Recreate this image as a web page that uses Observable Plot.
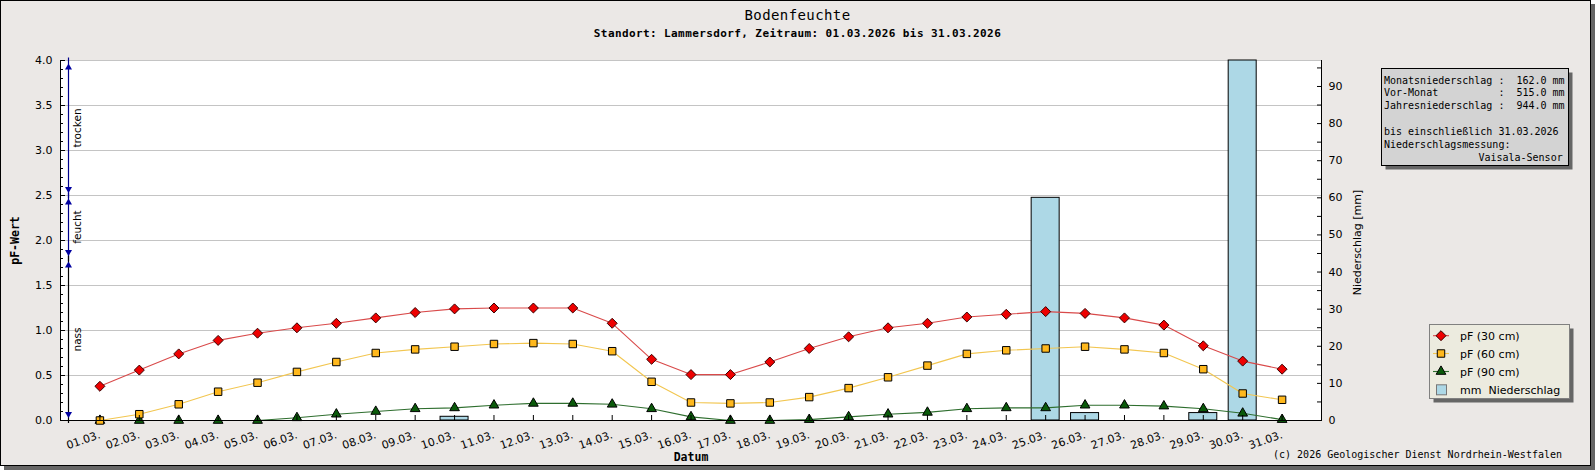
<!DOCTYPE html>
<html>
<head>
<meta charset="utf-8">
<script src="https://cdn.jsdelivr.net/npm/d3@7"></script>
<script src="https://cdn.jsdelivr.net/npm/@observablehq/plot@0.6"></script>
<style>
  body { margin: 0; background: white; }
  #wrap { position: relative; width: 1595px; height: 470px; }
  #frame { position: absolute; left: 0; top: 0; width: 1589px; height: 464px; border: 1px solid #000; background: #ebe8e6; box-shadow: 4px 4px 0 #666; }
  #chart { position: absolute; left: 0; top: 0; }
  #overlay { position: absolute; left: 0; top: 0; pointer-events: none; }
</style>
</head>
<body>
<div id="wrap">
  <div id="frame"></div>
  <div id="chart"></div>
  <svg id="overlay" width="1595" height="470"></svg>
</div>
<script>
// ---------- data ----------
const dayLabels = ["01.03.","02.03.","03.03.","04.03.","05.03.","06.03.","07.03.","08.03.","09.03.","10.03.",
  "11.03.","12.03.","13.03.","14.03.","15.03.","16.03.","17.03.","18.03.","19.03.","20.03.",
  "21.03.","22.03.","23.03.","24.03.","25.03.","26.03.","27.03.","28.03.","29.03.","30.03.","31.03."];
const pf30 = [0.38,0.56,0.74,0.89,0.97,1.03,1.08,1.14,1.20,1.24,1.25,1.25,1.25,1.08,0.68,0.51,0.51,0.65,0.80,0.93,1.03,1.08,1.15,1.18,1.21,1.19,1.14,1.06,0.83,0.66,0.57];
const pf60 = [0.00,0.07,0.18,0.32,0.42,0.54,0.65,0.75,0.79,0.82,0.85,0.86,0.85,0.77,0.43,0.20,0.19,0.20,0.26,0.36,0.48,0.61,0.74,0.78,0.80,0.82,0.79,0.75,0.57,0.30,0.23];
const pf90 = [0.00,0.00,0.00,0.00,0.00,0.03,0.07,0.10,0.13,0.14,0.17,0.19,0.19,0.18,0.13,0.04,0.00,0.00,0.01,0.04,0.07,0.09,0.13,0.14,0.14,0.17,0.17,0.16,0.13,0.08,0.01];
const rain = [0,0,0,0,0,0,0,0,0,1,0,0,0,0,0,0,0,0,0,0,0,0,0,0,60,2,0,0,2,97,0];
const pfTicks = [0,0.5,1.0,1.5,2.0,2.5,3.0,3.5,4.0];
const rainTicks = [0,10,20,30,40,50,60,70,80,90];
const rainMax = 97;
const zoneLabels = ["trocken","feucht","nass"];
const zoneFrom = [2.5,1.8,0];
const zoneTo = [4.0,2.5,1.8];
const zoneLine = ["#00008b","#00008b","#000000"];
const infoLines = ["Monatsniederschlag :  162.0 mm","Vor-Monat          :  515.0 mm","Jahresniederschlag :  944.0 mm","","bis einschließlich 31.03.2026","Niederschlagsmessung:"];
const infoLast = "Vaisala-Sensor";
const legendLabels = ["pF (30 cm)","pF (60 cm)","pF (90 cm)","mm  Niederschlag"];
const titleText = "Bodenfeuchte";
const subtitleText = "Standort: Lammersdorf, Zeitraum: 01.03.2026 bis 31.03.2026";
const copyrightText = "(c) 2026 Geologischer Dienst Nordrhein-Westfalen";

// ---------- build tables ----------
const k = 4 / rainMax;
const rows = dayLabels.map((l, i) => ({day: i + 1, label: l, pf30: pf30[i], pf60: pf60[i], pf90: pf90[i], mm: rain[i]}));
const rainRows = rows.filter(d => d.mm > 0);
const zones = zoneLabels.map((l, i) => ({label: l, from: zoneFrom[i], to: zoneTo[i], color: zoneLine[i]}));
const days = rows.map(d => d.day);
const minorPf = d3.range(0, 40.5, 1).map(v => v / 10);
const minorRain = d3.range(0, 96, 5);

const C30 = {line: "#d94a4a", fill: "#ee0000", stroke: "#3a0000"};
const C60 = {line: "#f2c650", fill: "#ffb81c", stroke: "#000"};
const C90 = {line: "#2e6e2e", fill: "#0a5a0a", stroke: "#000"};
const mono = "DejaVu Sans Mono, monospace";

const chart = Plot.plot({
  width: 1595, height: 470,
  marginLeft: 60, marginRight: 274, marginTop: 60, marginBottom: 50,
  style: {background: "transparent", fontFamily: "DejaVu Sans, sans-serif", fontSize: "11px", color: "black", overflow: "visible"},
  x: {type: "linear", domain: [0, 32]},
  y: {type: "linear", domain: [0, 4]},
  marks: [
    Plot.frame({fill: "white"}),
    Plot.gridY(pfTicks, {stroke: "#c4c4c4", strokeOpacity: 1}),
    Plot.rect(rainRows, {x1: d => d.day - 0.5, x2: d => d.day + 0.5, y1: 0, y2: d => d.mm * k, insetLeft: 5.7, insetRight: 5.7, fill: "#add8e6", stroke: "#000", strokeWidth: 1}),
    Plot.line(rows, {x: "day", y: "pf90", stroke: C90.line, strokeWidth: 1.1}),
    Plot.line(rows, {x: "day", y: "pf60", stroke: C60.line, strokeWidth: 1.1}),
    Plot.line(rows, {x: "day", y: "pf30", stroke: C30.line, strokeWidth: 1.1}),
    Plot.dot(rows, {x: "day", y: "pf90", symbol: "triangle", r: 3.6, fill: C90.fill, stroke: C90.stroke, strokeWidth: 1}),
    Plot.dot(rows, {x: "day", y: "pf60", symbol: "square", r: 4.2, fill: C60.fill, stroke: C60.stroke, strokeWidth: 1}),
    Plot.dot(rows, {x: "day", y: "pf30", symbol: "diamond2", r: 4.5, fill: C30.fill, stroke: C30.stroke, strokeWidth: 1}),
    // axes
    Plot.axisX(days, {tickFormat: d => dayLabels[d - 1], tickRotate: -19, textAnchor: "end", lineAnchor: "middle", tickSize: 0, tickPadding: 14, label: null, fontSize: 11}),
    Plot.axisX(days, {tickSize: -5, text: null, label: null}),
    Plot.axisY(pfTicks, {anchor: "left", tickFormat: d3.format(".1f"), tickSize: 0, tickPadding: 8, label: null, fontSize: 11}),
    Plot.axisY(pfTicks, {anchor: "left", tickSize: -5, text: null, label: null}),
    Plot.axisY(minorPf, {anchor: "left", tickSize: -3, text: null, label: null}),
    Plot.axisY(rainTicks.map(v => v * k), {anchor: "right", tickFormat: d => String(Math.round(d / k)), tickSize: 0, tickPadding: 7, label: null, fontSize: 11}),
    Plot.axisY(minorRain.map(v => v * k), {anchor: "right", tickSize: -5, text: null, label: null}),
    Plot.ruleX([0, 32], {stroke: "#000"}),
    Plot.ruleY([0], {stroke: "#000"}),
    // zones
    Plot.ruleX(zones, {x: 0, y1: "from", y2: "to", dx: 8, stroke: "color", strokeWidth: 1.2, insetTop: 3, insetBottom: 2.5}),
    Plot.dot(zones, {x: 0, y: "to", dx: 8, dy: 7, symbol: "triangle", r: 2.6, fill: "#0000a0", stroke: "none"}),
    Plot.dot(zones, {x: 0, y: "from", dx: 8, dy: -6.5, symbol: "triangle", rotate: 180, r: 2.6, fill: "#0000a0", stroke: "none"}),
    Plot.text(zones, {y: d => (d.from + d.to) / 2, text: "label", frameAnchor: "left", textAnchor: "middle", lineAnchor: "middle", dx: 17, rotate: -90, fontSize: 10.5}),
    // axis titles
    Plot.text(["pF-Wert"], {text: d => d, frameAnchor: "left", textAnchor: "middle", lineAnchor: "middle", dx: -45, rotate: -90, fontWeight: "bold", fontFamily: mono, fontSize: 11.5}),
    Plot.text(["Niederschlag [mm]"], {text: d => d, frameAnchor: "right", textAnchor: "middle", lineAnchor: "middle", dx: 36, dy: 2, rotate: -90, fontSize: 11}),
    Plot.text(["Datum"], {text: d => d, frameAnchor: "bottom", textAnchor: "middle", lineAnchor: "middle", dy: 37, fontWeight: "bold", fontFamily: mono, fontSize: 11.5})
  ]
});
document.getElementById("chart").appendChild(chart);

// ---------- overlay: title, info box, legend, copyright ----------
const ov = d3.select("#overlay");
ov.append("text").attr("x", 797.5).attr("y", 19.5).attr("text-anchor", "middle")
  .attr("font-family", mono).attr("font-size", 14).attr("letter-spacing", 0.4).text(titleText);
ov.append("text").attr("x", 797.5).attr("y", 37).attr("text-anchor", "middle")
  .attr("font-family", mono).attr("font-size", 11).attr("font-weight", "bold").attr("letter-spacing", 0.4).text(subtitleText);

// info box
ov.append("rect").attr("x", 1385.5).attr("y", 72.5).attr("width", 187).attr("height", 97).attr("fill", "#666");
ov.append("rect").attr("x", 1381.5).attr("y", 68.5).attr("width", 187).attr("height", 97).attr("fill", "#d3d3d3").attr("stroke", "#000");
infoLines.forEach((t, i) => {
  ov.append("text").attr("x", 1384).attr("y", 83.5 + i * 12.9).attr("font-family", mono).attr("font-size", 10)
    .style("white-space", "pre").text(t);
});
ov.append("text").attr("x", 1562.7).attr("y", 83.5 + 6 * 12.9).attr("text-anchor", "end").attr("font-family", mono).attr("font-size", 10).text(infoLast);

// legend
ov.append("rect").attr("x", 1433.5).attr("y", 328.5).attr("width", 140).attr("height", 74).attr("fill", "#666");
ov.append("rect").attr("x", 1429.5).attr("y", 324.5).attr("width", 140).attr("height", 74).attr("fill", "#ecebdf").attr("stroke", "#808080");
const legY = [335.7, 353.5, 371.5, 389.8];
const styles = [C30, C60, C90];
const syms = [d3.symbolDiamond2, d3.symbolSquare, d3.symbolTriangle];
const sizes = [Math.PI * 4.5 * 4.5, Math.PI * 4.2 * 4.2, Math.PI * 3.6 * 3.6];
for (let i = 0; i < 3; i++) {
  ov.append("line").attr("x1", 1433).attr("x2", 1449).attr("y1", legY[i]).attr("y2", legY[i]).attr("stroke", styles[i].line).attr("stroke-width", 1.1);
  ov.append("path").attr("transform", `translate(1441,${legY[i]})`).attr("d", d3.symbol(syms[i], sizes[i])())
    .attr("fill", styles[i].fill).attr("stroke", styles[i].stroke);
}
ov.append("rect").attr("x", 1436.5).attr("y", legY[3] - 5).attr("width", 10).attr("height", 10).attr("fill", "#add8e6").attr("stroke", "#777");
legendLabels.forEach((t, i) => {
  ov.append("text").attr("x", 1460).attr("y", legY[i] + 4).attr("font-family", "DejaVu Sans, sans-serif").attr("font-size", 11)
    .style("white-space", "pre").text(t);
});

// copyright
ov.append("text").attr("x", 1562).attr("y", 458).attr("text-anchor", "end").attr("font-family", mono).attr("font-size", 10).text(copyrightText);
</script>
</body>
</html>
